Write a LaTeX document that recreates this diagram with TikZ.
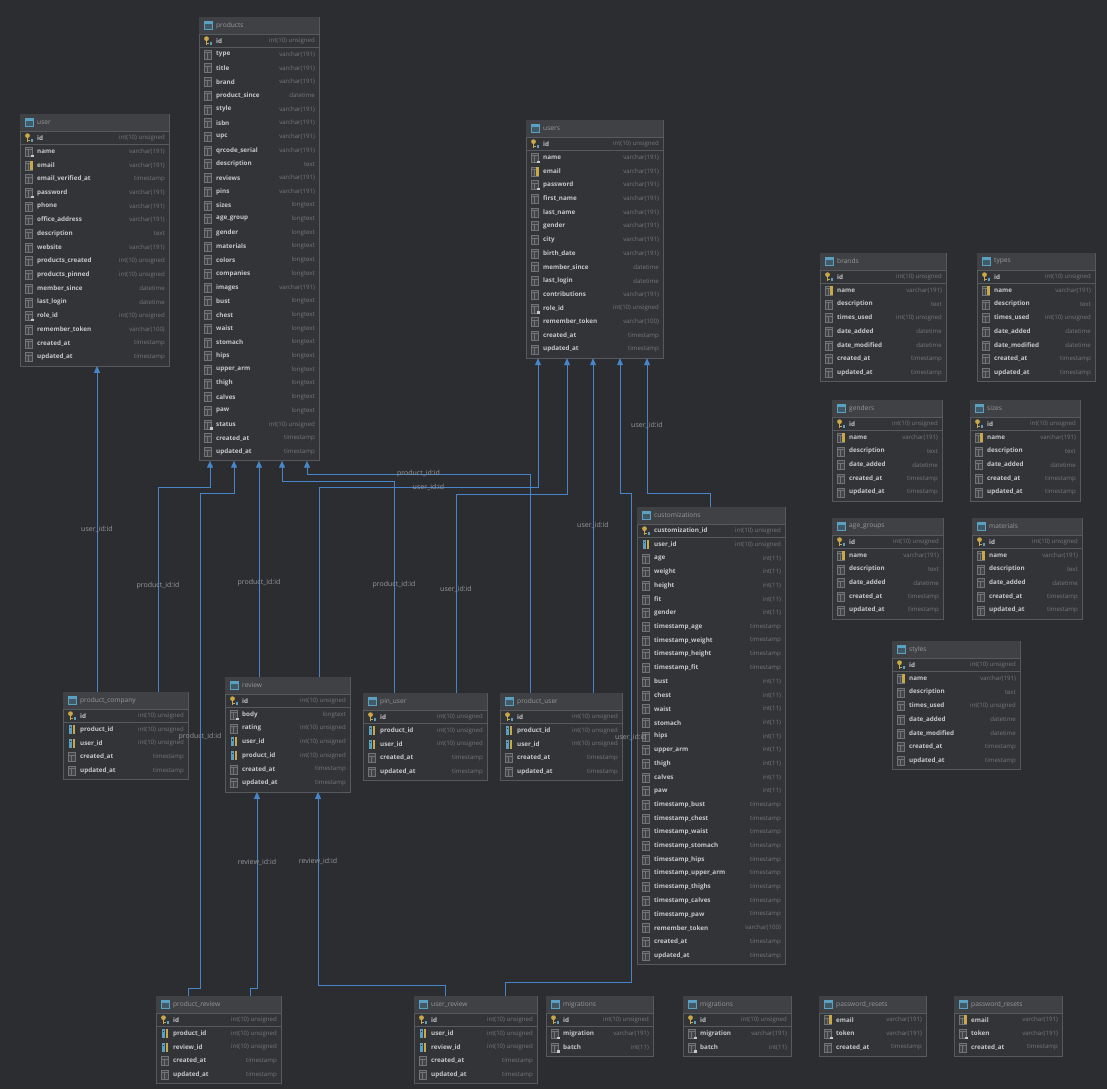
\documentclass[tikz,border=0pt]{standalone}
\usepackage{fontspec}
\setmainfont{Open Sans}
\usetikzlibrary{arrows.meta,positioning,calc}
\definecolor{cBg}{RGB}{43,45,48}
\definecolor{cFill}{RGB}{50,52,55}
\definecolor{cHead}{RGB}{63,65,68}
\definecolor{cBorder}{RGB}{86,89,93}
\definecolor{cName}{RGB}{198,200,202}
\definecolor{cType}{RGB}{118,120,123}
\definecolor{cTitle}{RGB}{150,152,155}
\definecolor{cLink}{RGB}{72,132,200}
\definecolor{cLabel}{RGB}{150,152,155}
\definecolor{cIcon}{RGB}{66,68,72}
\definecolor{cIconEdge}{RGB}{112,115,120}
\definecolor{cGold}{RGB}{200,168,72}
\definecolor{cCyan}{RGB}{90,160,195}
\pgfdeclarelayer{bg}
\pgfsetlayers{bg,main}

\newcommand{\colglyph}{%
  \draw[cIconEdge,fill=cIcon,line width=0.5pt] (-3.5,-4.5) rectangle (3.5,4.5);
  \draw[cIconEdge,line width=0.4pt] (-3.5,-2) -- (3.5,-2) (-0.5,-2) -- (-0.5,4.5);}

\tikzset{
  tblbox/.style={draw=cBorder,fill=cFill,line width=0.8pt,inner sep=0pt,outer sep=0pt},
  tbltitle/.style={font=\fontsize{6.6}{7}\selectfont,text=cTitle,inner sep=0pt,anchor=west},
  rowname/.style={font=\bfseries\fontsize{6.3}{7}\selectfont,text=cName,inner sep=0pt,anchor=west},
  rowtype/.style={font=\fontsize{6.1}{7}\selectfont,text=cType,inner sep=0pt,anchor=east},
  fkline/.style={draw=cLink,line width=0.9pt,-{Triangle[width=6pt,length=7pt]}},
  fklabel/.style={font=\fontsize{7}{8}\selectfont,text=cLabel,inner sep=1pt},
  pics/icc/.style={code={\colglyph}},
  pics/ici/.style={code={\colglyph \fill[cName] (2,3) rectangle (4.5,5.5);}},
  pics/icu/.style={code={\colglyph \fill[cGold] (1,-4.5) rectangle (3.5,4.5);}},
  pics/ick/.style={code={
    \fill[cGold] (-1.5,-2.2) circle (2.4);
    \fill[cGold] (-2.3,-1) rectangle (-0.7,4.5);
    \fill[cGold] (-0.7,2.6) rectangle (0.9,3.6);
    \fill[cCyan] (1.6,1.2) rectangle (4,4.5);}},
  pics/icf/.style={code={
    \fill[cCyan] (-3.5,-4.5) rectangle (-0.2,4.5);
    \fill[cGold] (0.6,-4.5) rectangle (3,4.5);
    \fill[cFill] (-2.4,-2.6) rectangle (-1.3,-1.4);}},
  pics/ictable/.style={code={
    \draw[cCyan,fill=cCyan!35!cFill,line width=0.5pt] (-4,-4) rectangle (4,4);
    \fill[cCyan] (-4,-4) rectangle (4,-1.8);}},
}

% #1 node, #2 left, #3 top, #4 width, #5 title, #6 key rows, #7 rows icon/name/type
\newcommand{\ertable}[7]{%
  \foreach \ic/\cn/\ct [count=\k] in {#7} {\xdef\nrows{\k}}%
  \pgfmathsetmacro{\tblh}{19+\nrows*13.7}%
  \node[tblbox,minimum width=#4,minimum height=\tblh,anchor=north west] (#1) at (#2,#3) {};
  \fill[cHead] (#2+0.4,#3+0.4) rectangle (#2+#4-0.4,#3+17);
  \draw[cBorder,line width=0.6pt] (#2,#3+17) -- (#2+#4,#3+17);
  \pic at (#2+9,#3+8.5) {ictable};
  \node[tbltitle] at (#2+17,#3+8.5) {#5};
  \ifnum#6>0
    \draw[cBorder,line width=0.6pt] (#2,#3+17+#6*13.7) -- (#2+#4,#3+17+#6*13.7);
  \fi
  \foreach \ic/\cn/\ct [count=\k] in {#7} {%
    \pgfmathsetmacro{\ry}{#3+17+(\k-0.5)*13.7}%
    \pic at (#2+9,\ry) {ic\ic};
    \node[rowname] at (#2+17,\ry) {\cn};
    \node[rowtype] at (#2+#4-4,\ry) {\ct};
  }%
}

\begin{document}
\catcode`\_=12
\begin{tikzpicture}[x=1pt,y=-1pt]
  \begin{pgfonlayer}{bg}
    \fill[cBg] (0,0) rectangle (1107,1089);
  \end{pgfonlayer}
  \useasboundingbox (0,0) rectangle (1107,1089);

  % tables
  \ertable{tUser}{20}{114}{149}{user}{1}{k/id/int(10) unsigned, i/name/varchar(191),
    u/email/varchar(191), c/email_verified_at/timestamp, i/password/varchar(191),
    c/phone/varchar(191), c/office_address/varchar(191), c/description/text,
    c/website/varchar(191), c/products_created/int(10) unsigned,
    c/products_pinned/int(10) unsigned, c/member_since/datetime, c/last_login/datetime,
    i/role_id/int(10) unsigned, c/remember_token/varchar(100), c/created_at/timestamp,
    c/updated_at/timestamp}
  \ertable{tProducts}{199}{17}{120}{products}{1}{k/id/int(10) unsigned,
    c/type/varchar(191), c/title/varchar(191), c/brand/varchar(191),
    c/product_since/datetime, c/style/varchar(191), c/isbn/varchar(191),
    c/upc/varchar(191), c/qrcode_serial/varchar(191), c/description/text,
    c/reviews/varchar(191), c/pins/varchar(191), c/sizes/longtext, c/age_group/longtext,
    c/gender/longtext, c/materials/longtext, c/colors/longtext, c/companies/longtext,
    c/images/varchar(191), c/bust/longtext, c/chest/longtext, c/waist/longtext,
    c/stomach/longtext, c/hips/longtext, c/upper_arm/longtext, c/thigh/longtext,
    c/calves/longtext, c/paw/longtext, i/status/int(10) unsigned,
    c/created_at/timestamp, c/updated_at/timestamp}
  \ertable{tUsers}{526}{120}{137}{users}{1}{k/id/int(10) unsigned, i/name/varchar(191),
    u/email/varchar(191), i/password/varchar(191), c/first_name/varchar(191),
    c/last_name/varchar(191), c/gender/varchar(191), c/city/varchar(191),
    c/birth_date/varchar(191), c/member_since/datetime, c/last_login/datetime,
    c/contributions/varchar(191), i/role_id/int(10) unsigned,
    c/remember_token/varchar(100), c/created_at/timestamp, c/updated_at/timestamp}
  \ertable{tBrands}{820}{253}{126}{brands}{1}{k/id/int(10) unsigned, u/name/varchar(191),
    c/description/text, c/times_used/int(10) unsigned, c/date_added/datetime,
    c/date_modified/datetime, c/created_at/timestamp, c/updated_at/timestamp}
  \ertable{tTypes}{977}{253}{118}{types}{1}{k/id/int(10) unsigned, u/name/varchar(191),
    c/description/text, c/times_used/int(10) unsigned, c/date_added/datetime,
    c/date_modified/datetime, c/created_at/timestamp, c/updated_at/timestamp}
  \ertable{tGenders}{832}{400}{110}{genders}{1}{k/id/int(10) unsigned, u/name/varchar(191),
    c/description/text, c/date_added/datetime, c/created_at/timestamp,
    c/updated_at/timestamp}
  \ertable{tSizes}{970}{400}{110}{sizes}{1}{k/id/int(10) unsigned, u/name/varchar(191),
    c/description/text, c/date_added/datetime, c/created_at/timestamp,
    c/updated_at/timestamp}
  \ertable{tAgeGroups}{832}{518}{111}{age_groups}{1}{k/id/int(10) unsigned,
    u/name/varchar(191), c/description/text, c/date_added/datetime,
    c/created_at/timestamp, c/updated_at/timestamp}
  \ertable{tMaterials}{972}{518}{110}{materials}{1}{k/id/int(10) unsigned,
    u/name/varchar(191), c/description/text, c/date_added/datetime,
    c/created_at/timestamp, c/updated_at/timestamp}
  \ertable{tStyles}{892}{641}{128}{styles}{1}{k/id/int(10) unsigned, u/name/varchar(191),
    c/description/text, c/times_used/int(10) unsigned, c/date_added/datetime,
    c/date_modified/datetime, c/created_at/timestamp, c/updated_at/timestamp}
  \ertable{tCustom}{637}{507}{148}{customizations}{1}{k/customization_id/int(10) unsigned,
    f/user_id/int(10) unsigned, c/age/int(11), c/weight/int(11), c/height/int(11),
    c/fit/int(11), c/gender/int(11), c/timestamp_age/timestamp,
    c/timestamp_weight/timestamp, c/timestamp_height/timestamp, c/timestamp_fit/timestamp,
    c/bust/int(11), c/chest/int(11), c/waist/int(11), c/stomach/int(11), c/hips/int(11),
    c/upper_arm/int(11), c/thigh/int(11), c/calves/int(11), c/paw/int(11),
    c/timestamp_bust/timestamp, c/timestamp_chest/timestamp, c/timestamp_waist/timestamp,
    c/timestamp_stomach/timestamp, c/timestamp_hips/timestamp,
    c/timestamp_upper_arm/timestamp, c/timestamp_thighs/timestamp,
    c/timestamp_calves/timestamp, c/timestamp_paw/timestamp,
    c/remember_token/varchar(100), c/created_at/timestamp, c/updated_at/timestamp}
  \ertable{tCompany}{63}{692}{125}{product_company}{1}{k/id/int(10) unsigned,
    f/product_id/int(10) unsigned, f/user_id/int(10) unsigned, c/created_at/timestamp,
    c/updated_at/timestamp}
  \ertable{tReview}{225}{677}{125}{review}{1}{k/id/int(10) unsigned, i/body/longtext,
    c/rating/int(10) unsigned, f/user_id/int(10) unsigned, f/product_id/int(10) unsigned,
    c/created_at/timestamp, c/updated_at/timestamp}
  \ertable{tPinUser}{363}{693}{124}{pin_user}{1}{k/id/int(10) unsigned,
    f/product_id/int(10) unsigned, f/user_id/int(10) unsigned, c/created_at/timestamp,
    c/updated_at/timestamp}
  \ertable{tProdUser}{500}{693}{122}{product_user}{1}{k/id/int(10) unsigned,
    f/product_id/int(10) unsigned, f/user_id/int(10) unsigned, c/created_at/timestamp,
    c/updated_at/timestamp}
  \ertable{tProdReview}{156}{996}{125}{product_review}{1}{k/id/int(10) unsigned,
    f/product_id/int(10) unsigned, f/review_id/int(10) unsigned, c/created_at/timestamp,
    c/updated_at/timestamp}
  \ertable{tUserReview}{414}{996}{123}{user_review}{1}{k/id/int(10) unsigned,
    f/user_id/int(10) unsigned, f/review_id/int(10) unsigned, c/created_at/timestamp,
    c/updated_at/timestamp}
  \ertable{tMigrationsA}{546}{996}{107}{migrations}{1}{k/id/int(10) unsigned,
    i/migration/varchar(191), i/batch/int(11)}
  \ertable{tMigrationsB}{683}{996}{108}{migrations}{1}{k/id/int(10) unsigned,
    i/migration/varchar(191), i/batch/int(11)}
  \ertable{tResetsA}{819}{996}{107}{password_resets}{0}{u/email/varchar(191),
    i/token/varchar(191), c/created_at/timestamp}
  \ertable{tResetsB}{954}{996}{108}{password_resets}{0}{u/email/varchar(191),
    i/token/varchar(191), c/created_at/timestamp}

  % foreign keys
  \draw[fkline] ([xshift=34pt]tCompany.north west) -- node[fklabel]{user_id:id} ([xshift=77pt]tUser.south west);
  \draw[fkline] ([xshift=95pt]tCompany.north west) -- node[fklabel,pos=0.52]{product_id:id} ++(0,-205) -| ([xshift=11pt]tProducts.south west);
  \draw[fkline] ([xshift=32pt]tProdReview.north west) -- ++(0,-8) -- ++(12,0) -- node[fklabel,pos=0.507]{product_id:id} ++(0,-495) -| ([xshift=35pt]tProducts.south west);
  \draw[fkline] ([xshift=34pt]tReview.north west) -- node[fklabel,pos=0.435]{product_id:id} ([xshift=60pt]tProducts.south west);
  \draw[fkline] ([xshift=31pt]tPinUser.north west) -- node[fklabel,pos=0.51]{product_id:id} ++(0,-212) -| ([xshift=83pt]tProducts.south west);
  \draw[fkline] ([xshift=30pt]tProdUser.north west) -- ++(0,-219) -- node[fklabel]{product_id:id} ++(-223,0) -- ([xshift=108pt]tProducts.south west);
  \draw[fkline] ([xshift=94pt]tReview.north west) -- ++(0,-190) -- node[fklabel]{user_id:id} ++(219,0) -- ([xshift=12pt]tUsers.south west);
  \draw[fkline] ([xshift=93pt]tPinUser.north west) -- node[fklabel,pos=0.52]{user_id:id} ++(0,-199) -| ([xshift=41pt]tUsers.south west);
  \draw[fkline] ([xshift=93pt]tProdUser.north west) -- node[fklabel]{user_id:id} ([xshift=67pt]tUsers.south west);
  \draw[fkline] ([xshift=91pt]tUserReview.north west) -- ++(0,-14) -- ++(126,0) -- node[fklabel]{user_id:id} ++(0,-489) -| ([xshift=94pt]tUsers.south west);
  \draw[fkline] ([xshift=73pt]tCustom.north west) -- ++(0,-14) -| node[fklabel,pos=0.75]{user_id:id} ([xshift=121pt]tUsers.south west);
  \draw[fkline] ([xshift=94pt]tProdReview.north west) -- ++(0,-8) -| node[fklabel,pos=0.82]{review_id:id} ([xshift=32pt]tReview.south west);
  \draw[fkline] ([xshift=31pt]tUserReview.north west) -- ++(0,-11) -| node[fklabel,pos=0.82]{review_id:id} ([xshift=93pt]tReview.south west);
\end{tikzpicture}
\end{document}
